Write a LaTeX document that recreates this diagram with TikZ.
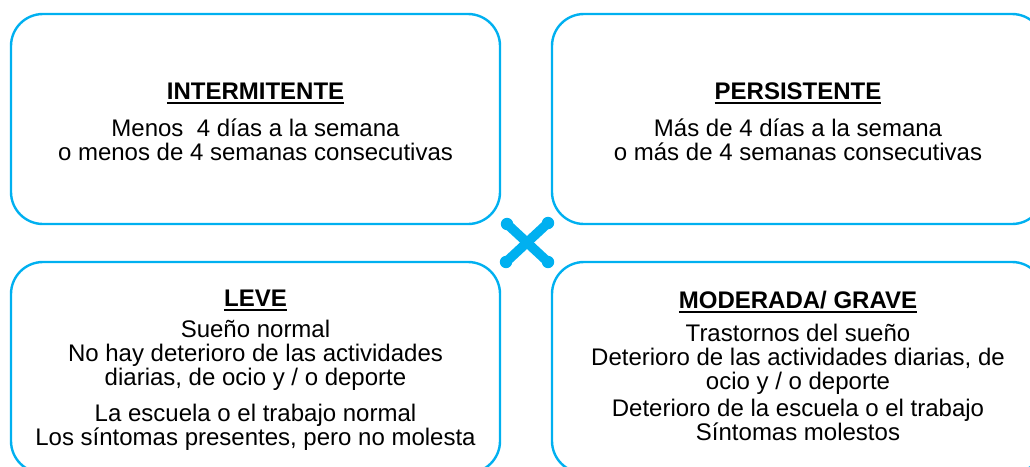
\documentclass[tikz,border=0pt]{standalone}
\usepackage{fontspec}
\setmainfont{Liberation Sans}
\definecolor{cyanb}{HTML}{00B0F0}
\newcommand\headul[1]{\setbox0\hbox{#1}\rlap{\rule[-4.5pt]{\wd0}{1.8pt}}\box0}
\begin{document}
\begin{tikzpicture}[x=1pt,y=-1pt,
  box/.style={draw=cyanb, line width=2.4pt, rounded corners=32pt, rectangle, inner sep=0pt},
  head/.style={font=\fontsize{24}{24}\selectfont\bfseries, anchor=base, inner sep=0pt},
  body/.style={font=\fontsize{24}{24}\selectfont, align=center, anchor=base, inner sep=0pt},
  cross/.style={draw=cyanb, line width=9.5pt, line cap=round},
  dot/.style={fill=cyanb}]
\useasboundingbox (0,0) rectangle (1030,466);
\clip (0,0) rectangle (1030,466);
% boxes
\node[box, minimum width=489pt, minimum height=210pt] (tl) at (255.5,119) {};
\node[box, minimum width=492pt, minimum height=210pt] (tr) at (798,119) {};
\node[box, minimum width=489pt, minimum height=211pt] (bl) at (255.5,367.5) {};
\node[box, minimum width=492pt, minimum height=211pt] (br) at (798,367.5) {};
% top-left (body anchored at baseline of its last line)
\node[head] (tlh) at (255.5,99) {\headul{INTERMITENTE}};
\node[body] (tlb) at (255.5,160) {Menos\ \ 4 días a la semana\\o menos de 4 semanas consecutivas};
% top-right
\node[head] (trh) at (798,99) {\headul{PERSISTENTE}};
\node[body] (trb) at (798,160) {Más de 4 días a la semana\\o más de 4 semanas consecutivas};
% bottom-left
\node[head] (blh) at (255.5,306) {\headul{LEVE}};
\node[body] (blb) at (255.5,445) {Sueño normal\\No hay deterioro de las actividades\\diarias, de ocio y / o deporte\\[12pt]La escuela o el trabajo normal\\Los síntomas presentes, pero no molesta};
% bottom-right
\node[head] (brh) at (798,308) {\headul{MODERADA/ GRAVE}};
\node[body] (brb) at (798,440) {Trastornos del sueño\\Deterioro de las actividades diarias, de\\ocio y / o deporte\\[3pt]Deterioro de la escuela o el trabajo\\Síntomas molestos};
% cross
\coordinate (c1) at (507,224);
\coordinate (c2) at (548,262);
\coordinate (c3) at (548,223);
\coordinate (c4) at (506,262);
\draw[cross] (c1) -- (c2);
\draw[cross] (c3) -- (c4);
\foreach \p in {c1,c2,c3,c4} \fill[dot] (\p) circle (6.2pt);
\end{tikzpicture}
\end{document}
